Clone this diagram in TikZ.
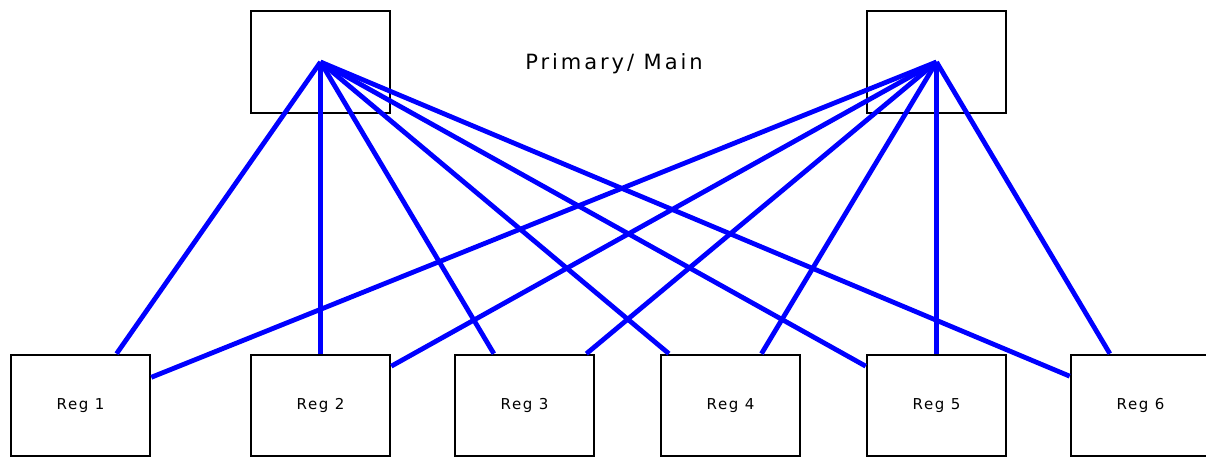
\documentclass[tikz,border=0pt]{standalone}
\usepackage{fontspec}
\setmainfont{DejaVu Sans}
\newfontfamily\siteFont[LetterSpace=11]{DejaVu Sans}
\newfontfamily\titleFont[LetterSpace=14]{DejaVu Sans}
\definecolor{linkBlue}{HTML}{0000FF}

\begin{document}
\begin{tikzpicture}[x=1pt, y=-1pt,
    site/.style={draw=black, line width=2.6pt, minimum width=139pt, minimum height=101pt,
      inner sep=0pt, font=\siteFont\fontsize{15}{17}\selectfont},
    link/.style={draw=linkBlue, line width=4.8pt}]
    \useasboundingbox (0,0) rectangle (1206,457);

    % the two primary sites
    \node[site, minimum height=102pt] (mainL) at (320.5,62) {};
    \node[site, minimum height=102pt] (mainR) at (936.5,62) {};
    \node[font=\titleFont\fontsize{21}{24}\selectfont] (title) at (614,64) {Primary/ Main};

    % regional sites
    \node[site] (reg1) at (80.5,405.5) {Reg 1};
    \node[site] (reg2) at (320.5,405.5) {Reg 2};
    \node[site] (reg3) at (524.5,405.5) {Reg 3};
    \node[site] (reg4) at (730.5,405.5) {Reg 4};
    \node[site] (reg5) at (936.5,405.5) {Reg 5};
    \node[site] (reg6) at (1140.5,405.5) {Reg 6};

    % every region hangs off both primaries
    \draw[link] (mainL.center) -- (reg1);  \draw[link] (mainR.center) -- (reg1);
    \draw[link] (mainL.center) -- (reg2);  \draw[link] (mainR.center) -- (reg2);
    \draw[link] (mainL.center) -- (reg3);  \draw[link] (mainR.center) -- (reg3);
    \draw[link] (mainL.center) -- (reg4);  \draw[link] (mainR.center) -- (reg4);
    \draw[link] (mainL.center) -- (reg5);  \draw[link] (mainR.center) -- (reg5);
    \draw[link] (mainL.center) -- (reg6);  \draw[link] (mainR.center) -- (reg6);
  \end{tikzpicture}
\end{document}
